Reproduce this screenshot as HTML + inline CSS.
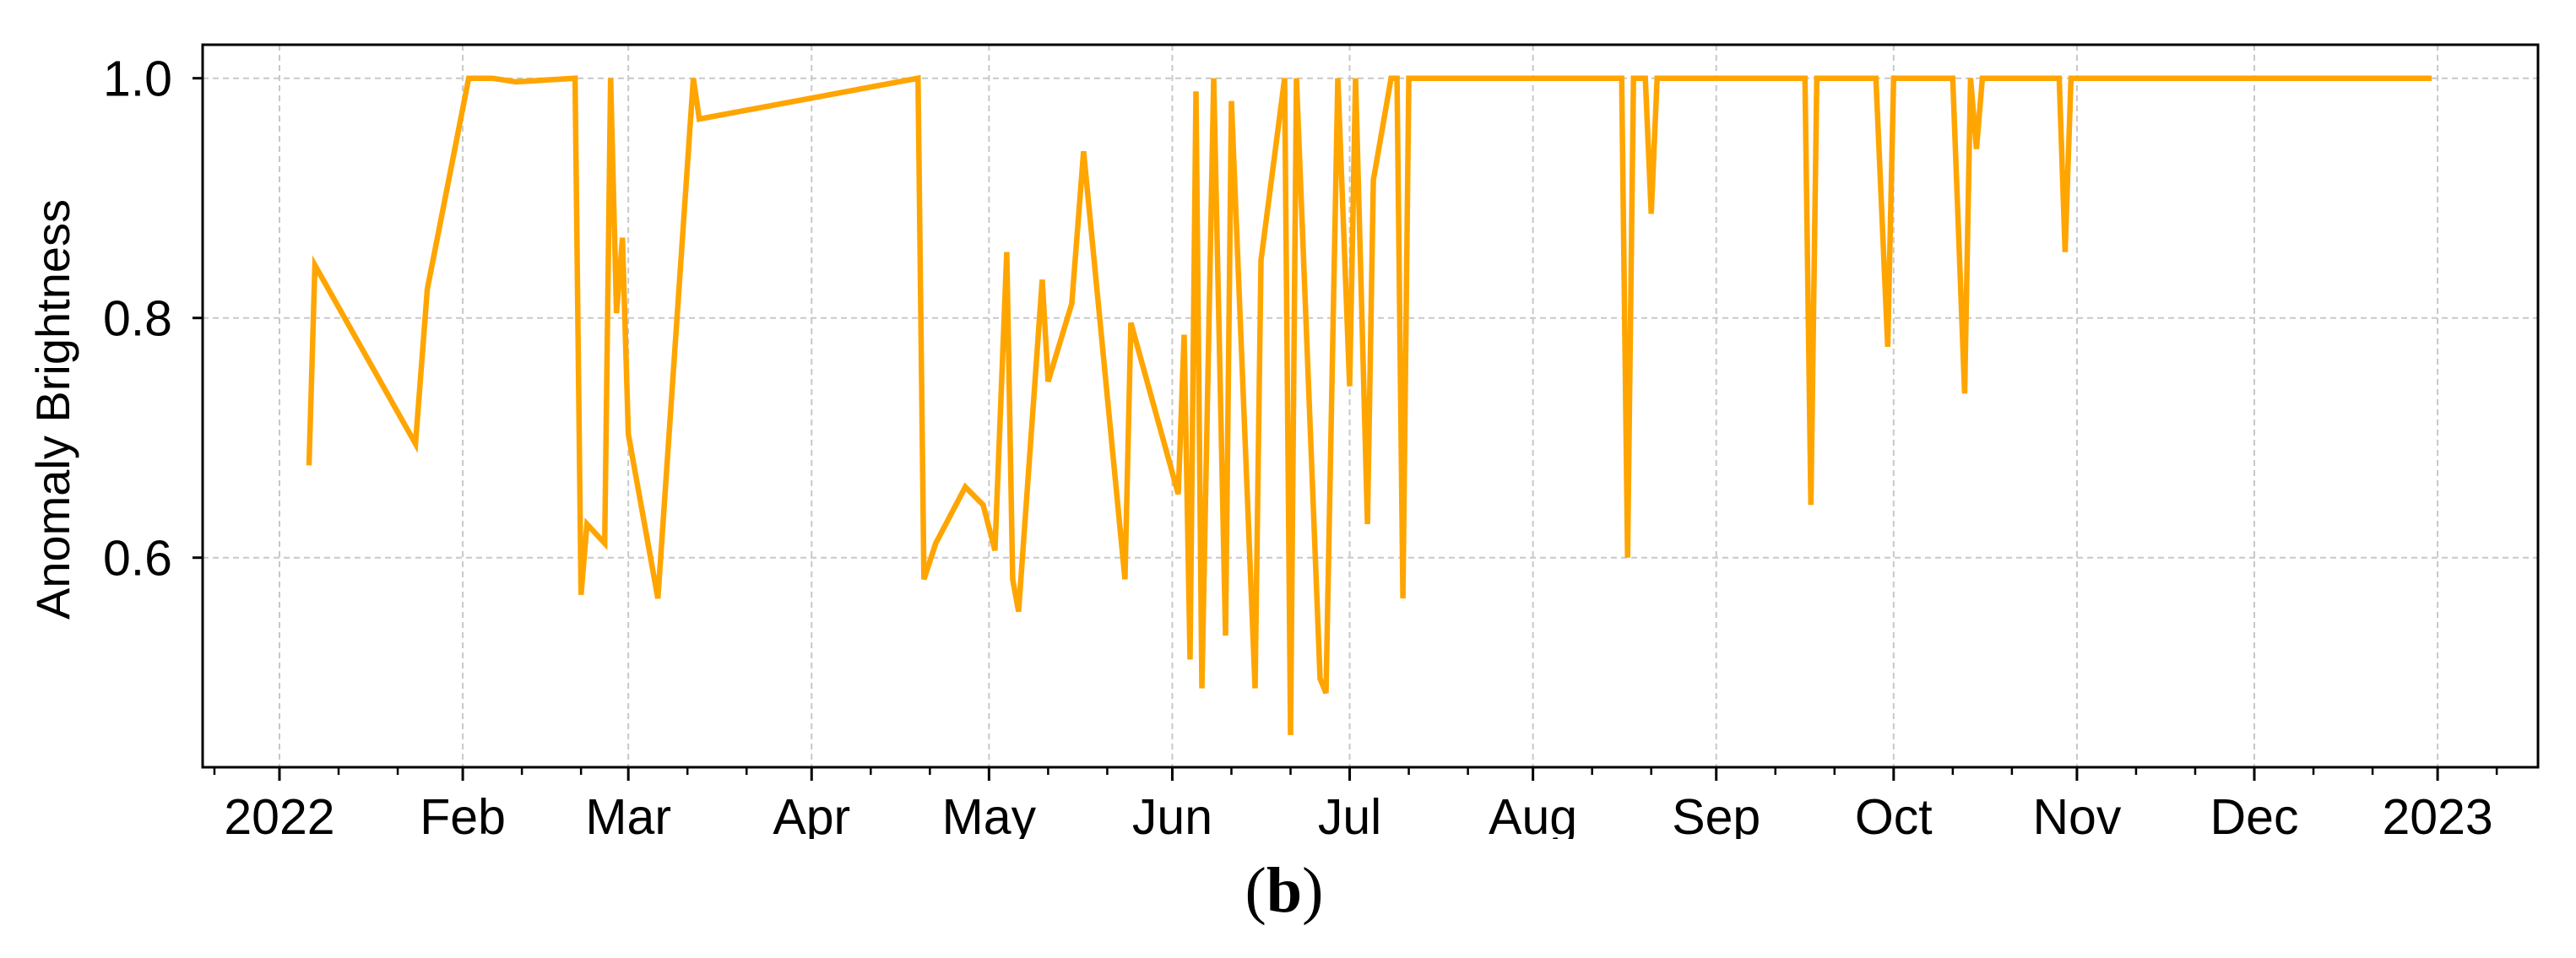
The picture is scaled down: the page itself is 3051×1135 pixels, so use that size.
<!DOCTYPE html>
<html>
<head>
<meta charset="utf-8">
<style>
html,body{margin:0;padding:0;background:#fff;}
svg{display:block;}
text{font-family:"Liberation Sans",Arial,sans-serif;fill:#000;}
</style>
</head>
<body>
<svg id="chart" width="3051" height="1135" viewBox="0 0 3051 1135" xmlns="http://www.w3.org/2000/svg">
  <rect x="0" y="0" width="3051" height="1135" fill="#fff"/>
  <g id="grid"></g>
  <g id="series"></g>
  <g id="axes"></g>
  <text x="67" y="485" font-size="56" text-anchor="middle" transform="rotate(-90 67 485)" dominant-baseline="middle">Anomaly Brightness</text>
  <text x="1521" y="1080" font-size="76" text-anchor="middle" style="font-family:'Liberation Serif',serif">(<tspan font-weight="bold">b</tspan>)</text>
</svg>
<script>
// data: day offset from 2022-01-01 and brightness value
const dayOfYear = [5,6,23,25,32,36,40,50,51,52,55,56,57,58,59,64,70,71,108,109,111,116,119,121,123,124,125,129,130,134,136,143,144,152,153,154,155,156,158,160,161,165,166,170,171,172,176,177,179,181,182,184,185,188,189,190,191,227,228,229,231,232,233,258,259,260,270,272,273,283,285,286,287,288,301,302,303,364];
const brightness = [0.677,0.844,0.695,0.824,1.0,1.0,0.997,1.0,0.569,0.628,0.612,1.0,0.804,0.867,0.703,0.566,1.0,0.966,1.0,0.582,0.612,0.659,0.644,0.606,0.855,0.582,0.555,0.832,0.747,0.812,0.939,0.582,0.796,0.653,0.786,0.515,0.989,0.491,1.0,0.535,0.981,0.491,0.848,1.0,0.452,1.0,0.499,0.487,1.0,0.743,1.0,0.628,0.915,1.0,1.0,0.566,1.0,1.0,0.6,1.0,1.0,0.887,1.0,1.0,0.644,1.0,1.0,0.776,1.0,1.0,0.737,1.0,0.941,1.0,1.0,0.855,1.0,1.0];
const yTicks = [0.6,0.8,1.0];
const yTickLabels = ["0.6","0.8","1.0"];
const monthStartDays = [0,31,59,90,120,151,181,212,243,273,304,334,365];
const monthLabels = ["2022","Feb","Mar","Apr","May","Jun","Jul","Aug","Sep","Oct","Nov","Dec","2023"];

const NS = "http://www.w3.org/2000/svg";
const L = 240, R = 3006, T = 53, B = 909;
function xs(d){ return 331 + d * 7.003; }
function ys(v){ return 92.7 + (1.0 - v) * 1420; }
function mk(tag, attrs, parent){
  const e = document.createElementNS(NS, tag);
  for (const k in attrs) e.setAttribute(k, attrs[k]);
  parent.appendChild(e);
  return e;
}
const grid = document.getElementById('grid');
const axes = document.getElementById('axes');
const series = document.getElementById('series');

monthStartDays.forEach((d, i) => {
  const g = mk('line', {x1: xs(d), x2: xs(d), y1: T, y2: B, stroke: '#c8c8c8', 'stroke-width': 2, 'stroke-dasharray': '7,5'}, grid);
  
  
});
yTicks.forEach(v => {
  const g = mk('line', {x1: L, x2: R, y1: ys(v), y2: ys(v), stroke: '#c8c8c8', 'stroke-width': 2, 'stroke-dasharray': '7,5'}, grid);
  
  
});

const pts = dayOfYear.map((d, i) => xs(d).toFixed(1) + ',' + ys(brightness[i]).toFixed(1)).join(' ');
const pl = mk('polyline', {points: pts, fill: 'none', stroke: '#FFA500', 'stroke-width': 6.5, 'stroke-linejoin': 'miter', 'stroke-miterlimit': 4}, series);



const fr = mk('rect', {x: L, y: T, width: R - L, height: B - T, fill: 'none', stroke: '#000', 'stroke-width': 3}, axes);



monthStartDays.forEach((d, i) => {
  const t = mk('line', {x1: xs(d), x2: xs(d), y1: B, y2: B + 16, stroke: '#000', 'stroke-width': 3}, axes);
  
  
  const lb = mk('text', {x: xs(d), y: 988, 'font-size': 59, 'text-anchor': 'middle'}, axes);
  lb.textContent = monthLabels[i];
  
  
});
const minorDays = [-11];
monthStartDays.forEach(d => { minorDays.push(d + 10, d + 20); });
minorDays.forEach(d => {
  const x = xs(d);
  if (x < L || x > R) return;
  const t = mk('line', {x1: x, x2: x, y1: B, y2: B + 9, stroke: '#000', 'stroke-width': 2.5}, axes);
  
  
});
yTicks.forEach((v, i) => {
  const t = mk('line', {x1: L - 12, x2: L, y1: ys(v), y2: ys(v), stroke: '#000', 'stroke-width': 3}, axes);
  
  
  const lb = mk('text', {x: 204, y: ys(v) + 21, 'font-size': 59, 'text-anchor': 'end'}, axes);
  lb.textContent = yTickLabels[i];
  
  
});
const cl = mk('rect', {x: 0, y: 994, width: 3051, height: 20, fill: '#fff'}, axes);


</script>
</body>
</html>
